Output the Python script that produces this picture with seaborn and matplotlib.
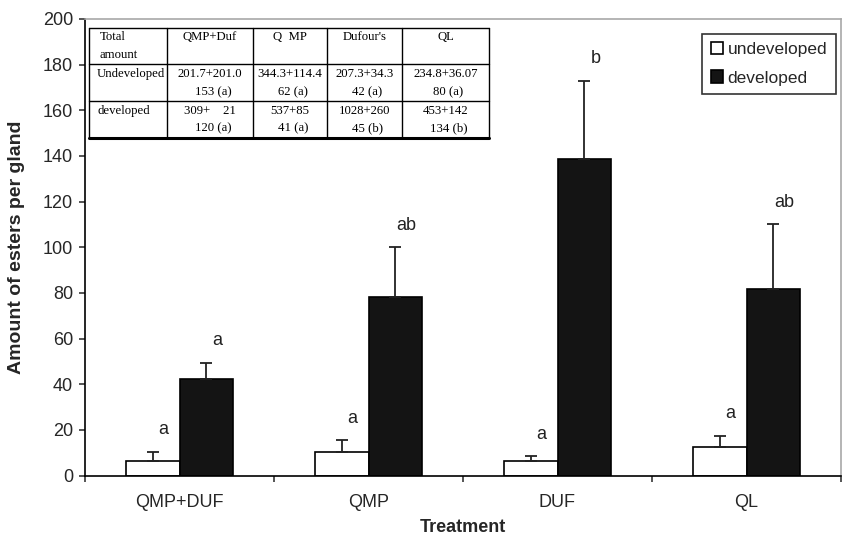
import matplotlib
matplotlib.use("Agg")
import matplotlib.pyplot as plt
import seaborn as sns
import pandas as pd
import numpy as np

# values
treatments = ["QMP+DUF", "QMP", "DUF", "QL"]
undeveloped = [6.4, 10.4, 6.4, 12.3]
undeveloped_err = [4.0, 5.0, 2.0, 5.1]
developed = [42.4, 78.2, 138.5, 81.6]
developed_err = [7.0, 21.8, 34.5, 28.4]
undeveloped_letters = ["a", "a", "a", "a"]
developed_letters = ["a", "ab", "b", "ab"]

# inset table text
table_cols = ["QMP+Duf", "Q  MP", "Dufour's", "QL"]
undeveloped_total = ["201.7+201.0", "344.3+114.4", "207.3+34.3", "234.8+36.07"]
undeveloped_n = ["153 (a)", "62 (a)", "42 (a)", "80 (a)"]
developed_total = ["309+    21", "537+85", "1028+260", "453+142"]
developed_n = ["120 (a)", "41 (a)", "45 (b)", "134 (b)"]

sns.set_style("ticks")
plt.rcParams['font.family'] = ['Liberation Sans', 'DejaVu Sans']

df = pd.DataFrame({
    "Treatment": treatments * 2,
    "value": undeveloped + developed,
    "group": ["undeveloped"] * 4 + ["developed"] * 4,
})

W, H = 842, 538
fig = plt.figure(figsize=(W / 100, H / 100), dpi=100)
ax = fig.add_axes([85 / W, 1 - 475.5 / H, (841 - 85) / W, (475.5 - 19) / H])

sns.barplot(data=df, x="Treatment", y="value", hue="group",
            palette={"undeveloped": "white", "developed": "#141414"},
            edgecolor="black", linewidth=1.2, width=0.57, errorbar=None,
            saturation=1, ax=ax)

for cont, vals, errs, letters in zip(ax.containers,
                                     [undeveloped, developed],
                                     [undeveloped_err, developed_err],
                                     [undeveloped_letters, developed_letters]):
    xs = [p.get_x() + p.get_width() / 2 for p in cont.patches]
    ax.errorbar(xs, vals, yerr=[np.zeros(len(errs)), errs], fmt="none",
                ecolor="#222222", elinewidth=1.3, capsize=4, capthick=1.3)
    for x, v, e, t in zip(xs, vals, errs, letters):
        ax.annotate(t, (x, v + e), xytext=(8, 16), textcoords="offset points",
                    ha="center", va="center", fontsize=13, color="#222222")

ax.set_ylim(0, 200)
ax.set_yticks(range(0, 201, 20))
ax.set_xlim(-0.5, 3.5)
ax.set_xticks(range(4))
ax.set_xticklabels(treatments)
ax.set_xticks(np.arange(-0.5, 4, 1), minor=True)
ax.tick_params(axis="x", which="major", length=0, pad=13, labelsize=13)
ax.tick_params(axis="x", which="minor", length=4.5, width=1.1, direction="out")
ax.tick_params(axis="y", length=4.5, width=1.1, direction="out", labelsize=13, pad=4)

ax.set_xlabel("Treatment", fontsize=13, fontweight="bold")
ax.set_ylabel("Amount of esters per gland", fontsize=14, fontweight="bold")
ax.xaxis.set_label_coords(0.5, -0.096)
ax.yaxis.set_label_coords(-0.079, 0.5)

for s in ["left", "bottom"]:
    ax.spines[s].set_color("black")
    ax.spines[s].set_linewidth(1.2)
for s in ["top", "right"]:
    ax.spines[s].set_visible(True)
    ax.spines[s].set_color("#a8a8a8")
    ax.spines[s].set_linewidth(1.2)

leg = ax.legend(loc="upper right", bbox_to_anchor=(0.993, 0.968), borderaxespad=0,
                frameon=True, fancybox=False, edgecolor="black", fontsize=12.5,
                handlelength=0.7, handleheight=0.7, handletextpad=0.25,
                borderpad=0.5, labelspacing=0.75)
leg.get_frame().set_linewidth(1.2)

# inset table, laid out in pixel units
x_edges = [88.5, 167, 253, 327, 402, 489]
y_edges = [27.5, 64.3, 101, 137.5]
tab = fig.add_axes([x_edges[0] / W, 1 - y_edges[-1] / H,
                    (x_edges[-1] - x_edges[0]) / W, (y_edges[-1] - y_edges[0]) / H])
tab.set_xlim(x_edges[0], x_edges[-1])
tab.set_ylim(y_edges[-1], y_edges[0])
tab.axis("off")
tab.patch.set_visible(False)
for xe in x_edges:
    tab.plot([xe, xe], [y_edges[0], y_edges[-1]], color="black", lw=1, clip_on=False)
for ye in y_edges[:-1]:
    tab.plot([x_edges[0], x_edges[-1]], [ye, ye], color="black", lw=1, clip_on=False)
tab.plot([x_edges[0], x_edges[-1]], [y_edges[-1], y_edges[-1]], color="black", lw=2.2,
         clip_on=False)

tfont = dict(family=["Liberation Serif", "DejaVu Serif"], fontsize=9.2, color="black")
tab.text(x_edges[0] + 11, y_edges[0] + 10, "Total", ha="left", va="center", **tfont)
tab.text(x_edges[0] + 11, y_edges[0] + 27.5, "amount", ha="left", va="center", **tfont)
tab.text(x_edges[0] + 8.5, y_edges[1] + 10, "Undeveloped", ha="left", va="center", **tfont)
tab.text(x_edges[0] + 8.5, y_edges[2] + 10, "developed", ha="left", va="center", **tfont)
for i in range(4):
    cx = (x_edges[i + 1] + x_edges[i + 2]) / 2
    tab.text(cx, y_edges[0] + 10, table_cols[i], ha="center", va="center", **tfont)
    tab.text(cx, y_edges[1] + 10, undeveloped_total[i], ha="center", va="center", **tfont)
    tab.text(cx + 3, y_edges[1] + 27.5, undeveloped_n[i], ha="center", va="center", **tfont)
    tab.text(cx, y_edges[2] + 10, developed_total[i], ha="center", va="center", **tfont)
    tab.text(cx + 3, y_edges[2] + 27.5, developed_n[i], ha="center", va="center", **tfont)

fig.savefig("out.png", dpi=100)
plt.close(fig)
